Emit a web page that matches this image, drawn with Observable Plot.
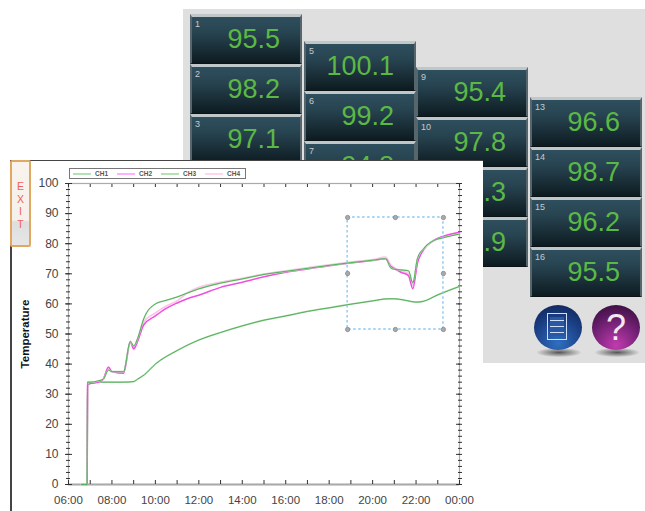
<!DOCTYPE html>
<html>
<head>
<meta charset="utf-8">
<script src="https://cdn.jsdelivr.net/npm/d3@7"></script>
<script src="https://cdn.jsdelivr.net/npm/@observablehq/plot@0.6"></script>
<style>
html,body{margin:0;padding:0;background:#fff;}
#stage{position:relative;width:645px;height:511px;overflow:hidden;font-family:"Liberation Sans",Arial,sans-serif;}
#stage>*{position:absolute;}
#backdrop{left:183px;top:9px;width:462px;height:354px;background:#dfdfdf;}
.tile{width:112px;height:50px;box-sizing:border-box;background:linear-gradient(#2f4f5e,#274350 35%,#0d1b20);border-top:3px solid #bfc7c9;border-left:2px solid #56666c;border-right:2px solid #56666c;border-bottom:1px solid #0a1215;}
.tile b{position:absolute;left:3px;top:2px;font-weight:normal;font-size:9px;color:#c4cccc;}
.tile span{position:absolute;right:20px;top:6.5px;font-size:27px;line-height:31px;color:#5cb845;}
.round{width:48px;height:45px;border-radius:50%;}
.shadow{width:44px;height:9px;border-radius:50%;background:radial-gradient(#555,#bbb0 75%);}
#docBtn{left:534px;top:305px;background:radial-gradient(circle at 50% 85%,#2f6fc0,#1b3f86 55%,#0e1f4d);}
#docBtn i{position:absolute;left:13px;top:8px;width:20px;height:27px;box-sizing:border-box;border:1.5px solid #cfe0f5;background:repeating-linear-gradient(#cfe0f5 0 1.5px,#2b58a5 1.5px 6px);background-clip:content-box;padding:3px 2px;}
#helpBtn{left:592px;top:305px;background:radial-gradient(circle at 50% 90%,#c23bb0,#6c1f6f 55%,#2b0a33);color:#f2e8f2;font-size:36px;line-height:45px;text-align:center;}
#plate{left:10px;top:160px;width:473px;height:351px;box-sizing:border-box;background:#fff;border-top:1.5px solid #444;border-left:2px solid #444;}
#exit{left:10px;top:160px;width:21px;height:87px;box-sizing:border-box;border:2px solid #e0a860;border-radius:2px;background:linear-gradient(#f8f3ec 0,#f5f1ea 70%,#dedede 72%,#e6e6e6);color:#f0605a;font-size:10.5px;line-height:12.5px;text-align:center;padding-top:18px;}
#legend{left:69px;top:168px;width:177px;height:11px;box-sizing:border-box;border:1px solid #777;background:#fff;}
#legend div{position:absolute;top:-1px;height:11px;font-size:6.5px;line-height:11px;color:#555;font-weight:bold;}
#legend u{position:absolute;top:3.5px;width:18px;height:2px;}
</style>
</head>
<body>
<div id="stage">
  <div id="backdrop"></div>
  <div id="tiles"></div>
  <div class="shadow" style="left:537px;top:348px"></div>
  <div class="shadow" style="left:595px;top:348px"></div>
  <div id="docBtn" class="round"><i></i></div>
  <div id="helpBtn" class="round">?</div>
  <div id="plate"></div>
  <div id="exit">E<br>X<br>I<br>T</div>
  <div id="chart" style="left:0;top:0"></div>
  <div id="legend"></div>
</div>
<script>
// Data
const seriesNames = ["CH1", "CH2", "CH3", "CH4"];
const hoursTop = [6.6, 6.85, 6.88, 7.0, 7.4, 7.6, 7.84, 8.0, 8.53, 8.85, 9.0, 9.18, 9.46, 10, 10.5, 11, 11.5, 12, 13, 14, 15, 16, 17, 18, 19, 20, 20.6, 20.83, 21, 21.3, 21.65, 21.85, 22.06, 22.35, 22.8, 23.26, 24];
const ch1 = [0, 0, 34, 34, 34.5, 35, 38, 37.5, 37.5, 47.5, 46, 48.5, 55, 60, 61.2, 62.3, 63.7, 65, 66.9, 68.3, 69.8, 70.8, 71.8, 72.8, 73.7, 74.5, 75, 72, 71.5, 71.3, 71, 67, 75, 78.4, 81, 82, 83.2];
const ch2 = [0, 0, 33, 33.5, 34, 35, 39, 37.5, 37, 47.5, 45, 47.5, 53, 56, 58.5, 60.3, 61.8, 62.9, 65.5, 67.2, 69, 70.5, 71.6, 72.7, 73.6, 74.4, 75, 72.5, 71.7, 70.5, 69.4, 65, 73.4, 78, 81, 82.5, 83.8];
const ch4 = [0, 0, 33.5, 34, 34, 35, 38.5, 37.5, 37, 47, 45.5, 48, 54, 57, 59.3, 61, 63.8, 65.5, 67.2, 68.5, 69.9, 71, 72, 73, 73.9, 74.7, 75.5, 73, 72, 71, 70, 66, 74, 78.2, 81, 82.3, 83.5];
const hoursLow = [6.6, 6.85, 6.88, 7.5, 8, 8.5, 9, 9.18, 9.5, 10, 11, 12, 13, 14, 15, 16, 17, 18, 19, 20, 20.7, 21, 21.5, 22, 22.3, 23, 24];
const ch3 = [0, 0, 34, 34, 34, 34, 34.2, 35, 36.5, 40, 44.5, 48, 50.5, 52.7, 54.6, 56, 57.5, 58.7, 59.9, 61, 61.7, 61.7, 61.2, 60.6, 60.8, 63, 65.8];

const xMajor = [6, 8, 10, 12, 14, 16, 18, 20, 22, 24];
const xTickLabels = ["06:00", "08:00", "10:00", "12:00", "14:00", "16:00", "18:00", "20:00", "22:00", "00:00"];
const xMinor = d3.range(6, 25);
const yMajor = d3.range(0, 101, 10);
const yMinor = d3.range(0, 101, 2);

const selX = [18.85, 21.05, 23.26];
const selY = [51.5, 70.1, 88.7];

const tileColumns = [
  {ids: [1, 2, 3], values: ["95.5", "98.2", "97.1"]},
  {ids: [5, 6, 7], values: ["100.1", "99.2", "94.8"]},
  {ids: [9, 10, 11, 12], values: ["95.4", "97.8", "96.3", "95.9"]},
  {ids: [13, 14, 15, 16], values: ["96.6", "98.7", "96.2", "95.5"]}
];

// Layout of the instrument panel behind the chart
const colLeft = [190, 304, 416, 530];
const colTop = [14, 41, 67, 97];
const tileStep = 50;
const host = document.getElementById("tiles");
host.style.cssText = "left:0;top:0";
tileColumns.forEach((col, c) => col.ids.forEach((id, i) => {
  const t = document.createElement("div");
  t.className = "tile";
  t.style.cssText = `position:absolute;left:${colLeft[c]}px;top:${colTop[c] + i * tileStep}px`;
  t.innerHTML = `<b>${id}</b><span>${col.values[i]}</span>`;
  host.appendChild(t);
}));

// Legend
const legendColors = ["#b5e2b5", "#ffb0ff", "#b5e2b5", "#ffd6ec"];
const legendStep = 44;
const lg = document.getElementById("legend");
seriesNames.forEach((n, i) => {
  lg.insertAdjacentHTML("beforeend",
    `<u style="left:${2.5 + i * legendStep}px;background:${legendColors[i]}"></u><div style="left:${25 + i * legendStep}px">${n}</div>`);
});

const rows = (name, hs, vs) => hs.map((h, i) => ({name, h, v: vs[i]}));
const handles = selX.flatMap((x, i) => selY.map((y, j) => ({x, y, mid: i === 1 && j === 1}))).filter(d => !d.mid);
const labelOf = h => xTickLabels[xMajor.indexOf(h)] ?? "";

const tickColor = "#333";
const curve = "monotone-x";
const chart = Plot.plot({
  width: 645,
  height: 511,
  marginLeft: 68,
  marginRight: 186,
  marginTop: 183,
  marginBottom: 27,
  style: {background: "transparent", fontFamily: "'Liberation Sans',Arial,sans-serif", overflow: "visible"},
  x: {domain: [6, 24], axis: null},
  y: {domain: [0, 100], axis: null},
  marks: [
    Plot.frame({stroke: "#aaa", strokeWidth: 1.2}),
    Plot.ruleY([0], {stroke: "#aaa", strokeWidth: 2}),
    // bottom and top ticks
    Plot.axisX({anchor: "bottom", ticks: xMajor, tickSize: 0, tickPadding: 11, tickFormat: labelOf, fontSize: 11.5, color: "#444", label: null}),
    Plot.axisX({anchor: "bottom", ticks: xMinor, tickSize: -4, tickFormat: () => "", label: null, stroke: tickColor}),
    Plot.axisX({anchor: "top", ticks: xMinor, tickSize: -3, tickFormat: () => "", label: null, stroke: tickColor}),
    // left ticks
    Plot.axisY({anchor: "left", ticks: yMajor, tickSize: 3, tickPadding: 7, tickFormat: d => d, fontSize: 12, color: "#444", label: null, stroke: tickColor}),
    Plot.axisY({anchor: "left", ticks: yMajor, tickSize: -4, tickFormat: () => "", label: null, stroke: tickColor}),
    Plot.axisY({anchor: "left", ticks: yMinor, tickSize: -2, tickFormat: () => "", label: null, stroke: tickColor}),
    Plot.axisY({anchor: "left", ticks: yMinor, tickSize: 2, tickFormat: () => "", label: null, stroke: tickColor}),
    // right ticks
    Plot.axisY({anchor: "right", ticks: yMinor, tickSize: -2, tickFormat: () => "", label: null, stroke: tickColor}),
    Plot.axisY({anchor: "right", ticks: yMinor, tickSize: 2, tickFormat: () => "", label: null, stroke: tickColor}),
    Plot.axisY({anchor: "right", ticks: yMajor, tickSize: -4, tickFormat: () => "", label: null, stroke: tickColor}),
    Plot.text(["Temperature"], {frameAnchor: "left", dx: -43, rotate: -90, fontWeight: "bold", fontSize: 11.5, fill: "#111", textAnchor: "middle"}),
    // series
    Plot.line(rows("CH3", hoursLow, ch3), {x: "h", y: "v", stroke: "#b5e2b5", strokeWidth: 1.8, curve}),
    Plot.line(rows("CH3", hoursLow, ch3), {x: "h", y: "v", stroke: "#3d9e45", strokeWidth: 0.8, curve}),
    Plot.line(rows("CH4", hoursTop, ch4), {x: "h", y: "v", stroke: "#ffc4ea", strokeWidth: 1.8, curve}),
    Plot.line(rows("CH2", hoursTop, ch2), {x: "h", y: "v", stroke: "#f050e0", strokeWidth: 1.5, curve}),
    Plot.line(rows("CH1", hoursTop, ch1), {x: "h", y: "v", stroke: "#b5e2b5", strokeWidth: 1.6, curve}),
    Plot.line(rows("CH1", hoursTop, ch1), {x: "h", y: "v", stroke: "#3d9e45", strokeWidth: 0.8, curve}),
    // selection box
    Plot.rect([{}], {x1: selX[0], x2: selX[2], y1: selY[0], y2: selY[2], fill: "none", stroke: "#8cc8f0", strokeWidth: 1.4, strokeDasharray: "2.5 2.5"}),
    Plot.dot(handles, {x: "x", y: "y", r: 2.2, fill: "#aaa", stroke: "#777", strokeWidth: 0.6})
  ]
});
document.getElementById("chart").appendChild(chart);
</script>
</body>
</html>
